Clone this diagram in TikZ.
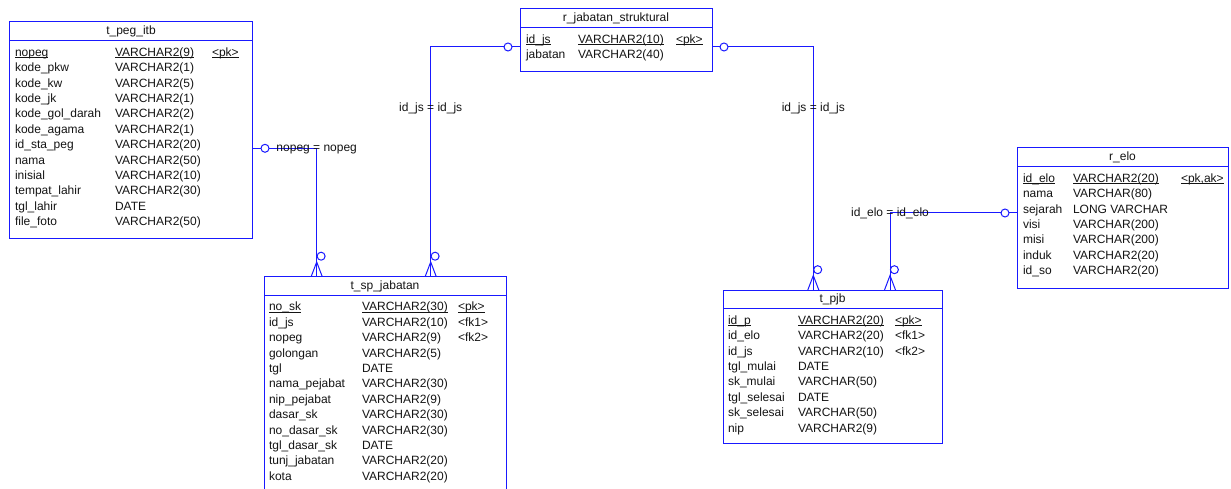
\documentclass[tikz,border=0pt]{standalone}
\usepackage{fontspec}
\setmainfont{Liberation Sans}
\definecolor{erblue}{RGB}{25,25,255}
\definecolor{ertext}{RGB}{20,20,20}
\newcommand\ulk[1]{\setbox0=\hbox{#1}\rlap{\rule[-1.7pt]{\wd0}{0.7pt}}\box0}
\tikzset{
  erline/.style={draw=erblue, line width=1pt},
  tbox/.style={erline, rectangle, inner sep=0pt, outer sep=0pt, anchor=north west},
  txt/.style={anchor=base west, inner sep=0pt, outer sep=0pt, text=ertext, font=\fontsize{12}{14}\selectfont},
  ttl/.style={txt, anchor=base},
  lbl/.style={txt, anchor=base},
  ocirc/.style={erline, circle, fill=white, minimum size=8pt, inner sep=0pt},
  crowfoot/.pic={\draw[erline] (-5.5,0) -- (0,-14.5) -- (5.5,0);
                 \node[ocirc] (-c) at (4.4,-20.3) {};}
}
% #1 id, #2 left, #3 top, #4 width, #5 height, #6 title
\newcommand\ertable[6]{%
  \node[tbox, minimum width=#4pt, minimum height=#5pt] (#1) at (#2,#3) {};
  \draw[erline] ([yshift=-18.7pt]#1.north west) -- ([yshift=-18.7pt]#1.north east);
  \node[ttl] (#1-title) at ([yshift=-12.8pt]#1.north) {#6};
}
% #1 id, #2 name dx, #3 type dx, #4 key dx, #5 rows, #6 keys
\newcommand\errows[6]{%
  \foreach \a/\b [count=\i from 0] in {#5}{
    \node[txt] (#1-n\i) at ([xshift=#2pt,yshift={-34.3pt-15.4pt*\i}]#1.north west) {\a};
    \node[txt] (#1-t\i) at ([xshift=#3pt,yshift={-34.3pt-15.4pt*\i}]#1.north west) {\b};
  }
  \foreach \k [count=\i from 0] in {#6}{
    \node[txt] (#1-k\i) at ([xshift=#4pt,yshift={-34.3pt-15.4pt*\i}]#1.north west) {\k};
  }
}
\begin{document}
\begin{tikzpicture}[x=1pt,y=-1pt]
\useasboundingbox (0,0) rectangle (1231,489);
\fill[white] (0,0) rectangle (1231,489);

% ---------- tables ----------
\ertable{peg}{9.5}{22}{243}{216}{t\_peg\_itb}
\errows{peg}{5.5}{105.5}{202.5}{%
  \ulk{nopeg}/\ulk{VARCHAR2(9)},
  kode\_pkw/VARCHAR2(1),
  kode\_kw/VARCHAR2(5),
  kode\_jk/VARCHAR2(1),
  kode\_gol\_darah/VARCHAR2(2),
  kode\_agama/VARCHAR2(1),
  id\_sta\_peg/VARCHAR2(20),
  nama/VARCHAR2(50),
  inisial/VARCHAR2(10),
  tempat\_lahir/VARCHAR2(30),
  tgl\_lahir/DATE,
  file\_foto/VARCHAR2(50)}{{\ulk{<pk>}}}

\ertable{sp}{264}{276.5}{242}{222}{t\_sp\_jabatan}
\errows{sp}{5}{98}{194}{%
  \ulk{no\_sk}/\ulk{VARCHAR2(30)},
  id\_js/VARCHAR2(10),
  nopeg/VARCHAR2(9),
  golongan/VARCHAR2(5),
  tgl/DATE,
  nama\_pejabat/VARCHAR2(30),
  nip\_pejabat/VARCHAR2(9),
  dasar\_sk/VARCHAR2(30),
  no\_dasar\_sk/VARCHAR2(30),
  tgl\_dasar\_sk/DATE,
  tunj\_jabatan/VARCHAR2(20),
  kota/VARCHAR2(20)}{{\ulk{<pk>}},<fk1>,<fk2>}

\ertable{rjs}{520}{9}{192}{63}{r\_jabatan\_struktural}
\errows{rjs}{6}{58}{156}{%
  \ulk{id\_js}/\ulk{VARCHAR2(10)},
  jabatan/VARCHAR2(40)}{{\ulk{<pk>}}}

\ertable{pjb}{723}{290}{219}{153}{t\_pjb}
\errows{pjb}{5}{75}{172}{%
  \ulk{id\_p}/\ulk{VARCHAR2(20)},
  id\_elo/VARCHAR2(20),
  id\_js/VARCHAR2(10),
  tgl\_mulai/DATE,
  sk\_mulai/VARCHAR(50),
  tgl\_selesai/DATE,
  sk\_selesai/VARCHAR(50),
  nip/VARCHAR2(9)}{{\ulk{<pk>}},<fk1>,<fk2>}

\ertable{elo}{1017}{148}{211}{140}{r\_elo}
\errows{elo}{6}{56}{164}{%
  \ulk{id\_elo}/\ulk{VARCHAR2(20)},
  nama/VARCHAR(80),
  sejarah/LONG VARCHAR,
  visi/VARCHAR(200),
  misi/VARCHAR(200),
  induk/VARCHAR2(20),
  id\_so/VARCHAR2(20)}{{\ulk{<pk,ak>}}}

% ---------- relationships ----------
\coordinate (r1) at (316.7,148.3);
\coordinate (r2) at (430.7,47);
\coordinate (r3) at (813.3,47);
\coordinate (r4) at (890,213);

\draw[erline] (peg.east |- r1) -- (r1) -- (r1 |- sp.north);
\draw[erline] (rjs.west |- r2) -- (r2) -- (r2 |- sp.north);
\draw[erline] (rjs.east |- r3) -- (r3) -- (r3 |- pjb.north);
\draw[erline] (elo.west |- r4) -- (r4) -- (r4 |- pjb.north);

\node[ocirc] (o1) at (265,148.3) {};
\node[ocirc] (o2) at (508,47) {};
\node[ocirc] (o3) at (724,47) {};
\node[ocirc] (o4) at (1005,213) {};

\pic (cf1) at (r1 |- sp.north) {crowfoot};
\pic (cf2) at (r2 |- sp.north) {crowfoot};
\pic (cf3) at (r3 |- pjb.north) {crowfoot};
\pic (cf4) at (r4 |- pjb.north) {crowfoot};

\node[lbl] (l1) at ([yshift=-3.5pt]r1) {nopeg = nopeg};
\node[lbl] (l2) at (430.7,111.5) {id\_js = id\_js};
\node[lbl] (l3) at (813.3,111.5) {id\_js = id\_js};
\node[lbl] (l4) at ([yshift=-3.5pt]r4) {id\_elo = id\_elo};
\end{tikzpicture}
\end{document}
